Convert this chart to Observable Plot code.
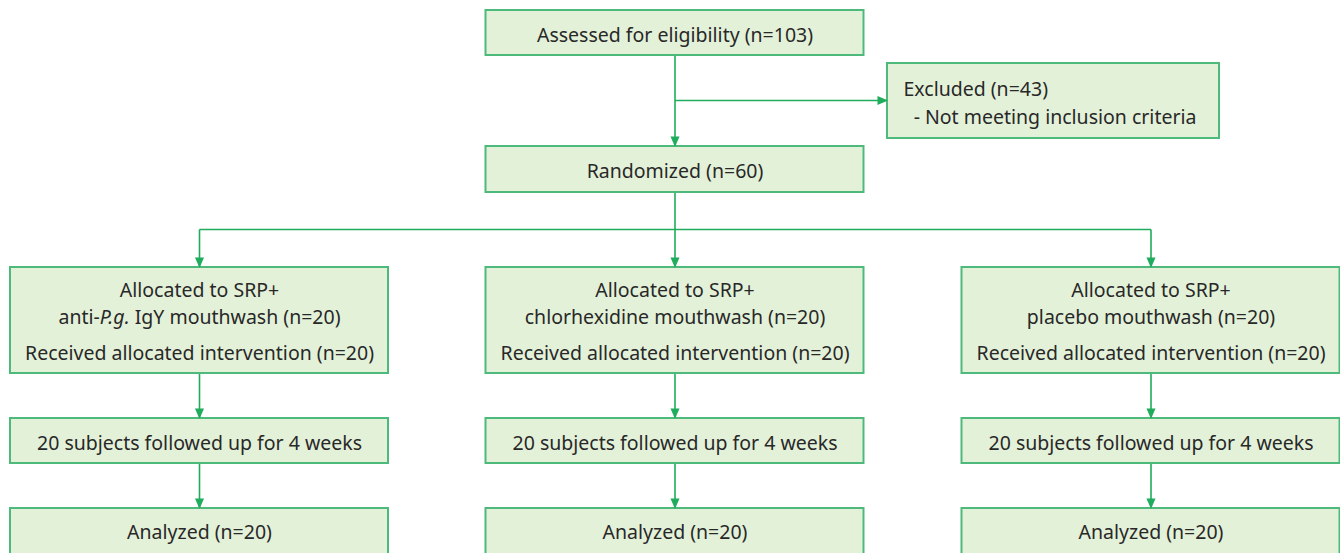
<!DOCTYPE html>
<html>
<head>
<meta charset="utf-8">
<script src="https://cdn.jsdelivr.net/npm/d3@7"></script>
<script src="https://cdn.jsdelivr.net/npm/@observablehq/plot@0.6"></script>
<style>
  html, body { margin: 0; padding: 0; background: #ffffff; }
  #chart { width: 1340px; height: 553px; overflow: hidden; }
</style>
</head>
<body>
<div id="chart"></div>
<script>
// ---------- data ----------
const assessedN = 103;
const excludedN = 43;
const excludedReason = "Not meeting inclusion criteria";
const randomizedN = 60;
const groupNames = ["anti-P.g. IgY", "chlorhexidine", "placebo"];
const allocatedN = [20, 20, 20];
const receivedN = [20, 20, 20];
const followedN = [20, 20, 20];
const followWeeks = [4, 4, 4];
const analyzedN = [20, 20, 20];

// ---------- layout (positions in pixels) ----------
const W = 1340, H = 553;
const colX = [199, 674.5, 1150.5];
const halfW = 189;
const mainX = 674.5;
const rowAssessed = [10, 55];
const rowRandom = [146, 192];
const rowExcluded = [63, 138];
const excludedX = [887, 1219];
const branchY = 100;
const splitY = 229;
const rowAlloc = [267, 373];
const rowFollow = [418, 463];
const rowAnalyzed = [508, 560];

const FILL = "#e4f1d9";
const BOX_STROKE = "#4dba7c";
const LINE = "#1fac5c";
const TEXT = "#282828";
const FONT = 19.5;

// nodes
const nodes = [
  {x1: mainX - halfW, x2: mainX + halfW, y1: rowAssessed[0], y2: rowAssessed[1]},
  {x1: excludedX[0], x2: excludedX[1], y1: rowExcluded[0], y2: rowExcluded[1]},
  {x1: mainX - halfW, x2: mainX + halfW, y1: rowRandom[0], y2: rowRandom[1]},
  ...colX.flatMap(cx => [
    {x1: cx - halfW, x2: cx + halfW, y1: rowAlloc[0], y2: rowAlloc[1]},
    {x1: cx - halfW, x2: cx + halfW, y1: rowFollow[0], y2: rowFollow[1]},
    {x1: cx - halfW, x2: cx + halfW, y1: rowAnalyzed[0], y2: rowAnalyzed[1]}
  ])
];

// labels
const labels = [
  {x: mainX, y: (rowAssessed[0] + rowAssessed[1]) / 2, text: `Assessed for eligibility (n=${assessedN})`, anchor: "middle"},
  {x: mainX, y: (rowRandom[0] + rowRandom[1]) / 2, text: `Randomized (n=${randomizedN})`, anchor: "middle"},
  {x: excludedX[0] + 16, y: (rowExcluded[0] + rowExcluded[1]) / 2, text: `Excluded (n=${excludedN})\n\u00a0\u00a0- ${excludedReason}`, anchor: "start"},
  ...colX.flatMap((cx, i) => [
    {x: cx, y: 301, text: `Allocated to SRP+\n${groupNames[i]} mouthwash (n=${allocatedN[i]})`, anchor: "middle"},
    {x: cx, y: 350.5, text: `Received allocated intervention (n=${receivedN[i]})`, anchor: "middle"},
    {x: cx, y: (rowFollow[0] + rowFollow[1]) / 2, text: `${followedN[i]} subjects followed up for ${followWeeks[i]} weeks`, anchor: "middle"},
    {x: cx, y: 530, text: `Analyzed (n=${analyzedN[i]})`, anchor: "middle"}
  ])
];

// connector segments
const segs = [
  {x1: mainX, y1: rowAssessed[1], x2: mainX, y2: rowRandom[0]},
  {x1: mainX, y1: branchY, x2: excludedX[0], y2: branchY},
  {x1: mainX, y1: rowRandom[1], x2: mainX, y2: splitY},
  {x1: colX[0], y1: splitY, x2: colX[2], y2: splitY},
  ...colX.flatMap(cx => [
    {x1: cx, y1: splitY, x2: cx, y2: rowAlloc[0]},
    {x1: cx, y1: rowAlloc[1], x2: cx, y2: rowFollow[0]},
    {x1: cx, y1: rowFollow[1], x2: cx, y2: rowAnalyzed[0]}
  ])
];

// arrowheads (tip location + rotation)
const heads = [
  {x: mainX, y: rowRandom[0], r: 0},
  {x: excludedX[0], y: branchY, r: -90},
  ...colX.flatMap(cx => [
    {x: cx, y: rowAlloc[0], r: 0},
    {x: cx, y: rowFollow[0], r: 0},
    {x: cx, y: rowAnalyzed[0], r: 0}
  ])
];

// custom down-pointing arrowhead with its tip at the origin
const arrowHead = {
  draw(context) {
    context.moveTo(0, 0.5);
    context.lineTo(-4.5, -10);
    context.lineTo(4.5, -10);
    context.closePath();
  }
};

const chart = Plot.plot({
  width: W,
  height: H,
  margin: 0,
  x: {domain: [0, W], range: [0, W], axis: null},
  y: {domain: [0, H], range: [0, H], axis: null},
  style: {fontFamily: "'Noto Sans', sans-serif", background: "#ffffff"},
  marks: [
    Plot.link(segs, {x1: "x1", y1: "y1", x2: "x2", y2: "y2", stroke: LINE, strokeWidth: 1.6}),
    Plot.rect(nodes, {x1: "x1", x2: "x2", y1: "y1", y2: "y2", fill: FILL, stroke: BOX_STROKE, strokeWidth: 2}),
    Plot.dot(heads, {x: "x", y: "y", rotate: "r", symbol: arrowHead, fill: LINE, stroke: "none", r: 5}),
    Plot.text(labels.filter(d => d.anchor === "middle"), {x: "x", y: "y", text: "text", textAnchor: "middle", lineAnchor: "middle", lineHeight: 1.385, fontSize: FONT, fill: TEXT}),
    Plot.text(labels.filter(d => d.anchor === "start"), {x: "x", y: "y", text: "text", textAnchor: "start", lineAnchor: "middle", lineHeight: 1.46, fontSize: FONT, fill: TEXT})
  ]
});

// italicize the species abbreviation
d3.select(chart).selectAll("tspan, text").each(function () {
  if (this.childElementCount === 0 && this.textContent.startsWith("anti-P.g.")) {
    const rest = this.textContent.slice("anti-P.g.".length);
    this.textContent = "";
    const el = d3.select(this);
    el.append("tspan").text("anti-");
    el.append("tspan").attr("font-style", "italic").text("P.g.");
    el.append("tspan").text(rest);
  }
});

document.getElementById("chart").appendChild(chart);
</script>
</body>
</html>
